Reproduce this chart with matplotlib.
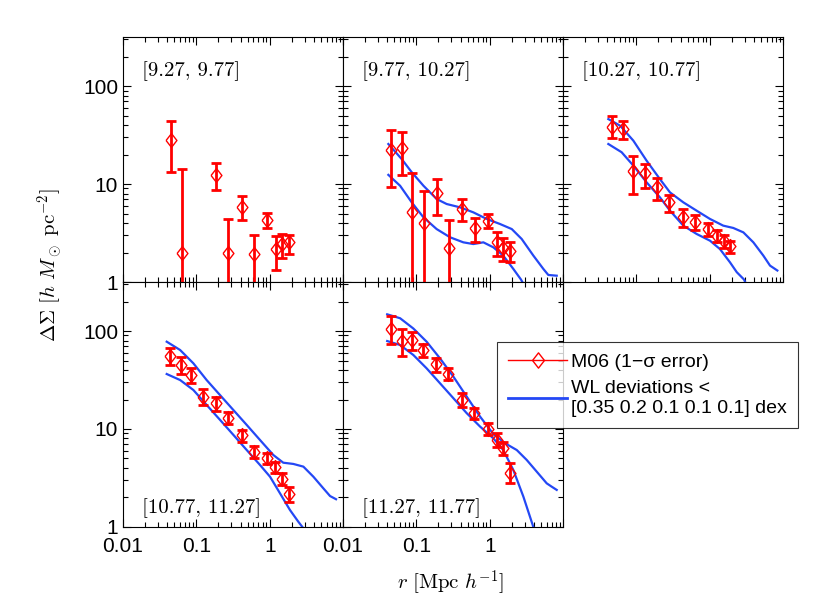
import matplotlib
matplotlib.use('Agg')
import matplotlib.pyplot as plt
from matplotlib.lines import Line2D
from matplotlib.ticker import FixedLocator, LogLocator, NullFormatter
import numpy as np

plt.rcParams['font.family'] = ['Liberation Sans', 'DejaVu Sans']
plt.rcParams['mathtext.fontset'] = 'cm'

# --------------- panel labels ---------------
labels = ['[9.27, 9.77]', '[9.77, 10.27]', '[10.27, 10.77]',
          '[10.77, 11.27]', '[11.27, 11.77]']

# --------------- M06 points (value, upper, lower end of 1-sigma bar) ---------------
r1 = [0.045, 0.063, 0.185, 0.267, 0.415, 0.611, 0.91, 1.21, 1.49, 1.84]
ds1 = [28.3, 1.98, 12.4, 2.0, 5.87, 1.93, 4.3, 2.17, 2.44, 2.54]
hi1 = [44, 14.2, 16.4, 4.4, 7.6, 3.04, 5.06, 2.97, 3.09, 3.04]
lo1 = [13.3, 0.1, 8.75, 0.1, 4.32, 0.1, 3.53, 1.34, 1.75, 1.93]

r2 = [0.0447, 0.0644, 0.088, 0.127, 0.189, 0.282, 0.424, 0.631, 0.94, 1.25, 1.53, 1.89]
ds2 = [22.4, 23.1, 5.14, 3.97, 8.04, 2.21, 5.56, 3.53, 4.16, 2.54, 2.22, 2.09]
hi2 = [35.8, 33.7, 12.9, 8.55, 11.2, 4.29, 7.03, 4.5, 4.94, 3.26, 2.81, 2.54]
lo2 = [9.25, 12.4, 0.1, 0.1, 4.86, 0.1, 4.22, 2.54, 3.53, 1.83, 1.63, 1.59]

r3 = [0.0461, 0.0665, 0.091, 0.131, 0.189, 0.282, 0.429, 0.631, 0.94, 1.27, 1.55, 1.9]
ds3 = [38.4, 36.4, 13.7, 12.9, 9.25, 6.5, 4.57, 4.12, 3.47, 2.97, 2.64, 2.31]
hi3 = [49, 43.6, 19.4, 16, 11.5, 7.8, 5.56, 4.83, 4.0, 3.39, 3.04, 2.64]
lo3 = [29.5, 28.8, 7.9, 9.0, 6.9, 5.2, 3.61, 3.39, 2.97, 2.54, 2.22, 1.98]

r4 = [0.0437, 0.0618, 0.0846, 0.125, 0.184, 0.267, 0.415, 0.611, 0.91, 1.18, 1.49, 1.84]
ds4 = [55.6, 45, 35.6, 21.4, 18.3, 13.0, 8.7, 5.87, 5.02, 4.13, 3.06, 2.15]
hi4 = [66.5, 53.8, 41.6, 25.6, 21.1, 15.0, 9.77, 6.7, 5.73, 4.64, 3.52, 2.54]
lo4 = [45, 36.4, 29.7, 17.6, 15.4, 11.2, 7.43, 5.02, 4.4, 3.58, 2.68, 1.81]

r5 = [0.0452, 0.0644, 0.088, 0.125, 0.185, 0.27, 0.424, 0.62, 0.94, 1.25, 1.5, 1.89]
ds5 = [106, 79.6, 81, 64, 45.7, 36.2, 19.8, 14.5, 10.0, 7.72, 6.45, 3.58]
hi5 = [142, 104, 98.4, 73.7, 53.4, 41.6, 23.1, 16.5, 11.6, 9.04, 7.43, 4.47]
lo5 = [73.7, 56, 64, 54.7, 38.4, 31.6, 16.9, 12.6, 8.7, 6.6, 5.43, 2.83]

# --------------- WL deviation envelopes (upper / lower curve) ---------------
wr2u = [0.0415, 0.063, 0.0864, 0.125, 0.189, 0.259, 0.394, 0.598, 0.91, 1.38, 2.0, 2.73, 3.94, 5.39, 6.3, 8.2]
wu2 = [25.6, 18.0, 13.2, 9.6, 7.03, 6.25, 5.78, 5.14, 4.4, 3.91, 3.47, 2.75, 1.86, 1.36, 1.18, 1.16]
wr2l = [0.0415, 0.06, 0.0864, 0.125, 0.189, 0.288, 0.437, 0.598, 0.82, 1.12, 1.53, 2.1, 2.67, 2.9]
wl2 = [12.4, 9.6, 6.5, 4.57, 3.47, 2.86, 2.54, 2.44, 2.54, 2.26, 1.86, 1.36, 1.06, 0.95]

wr3u = [0.0415, 0.06, 0.091, 0.138, 0.21, 0.288, 0.437, 0.665, 1.01, 1.53, 2.1, 2.88, 3.94, 5.39, 6.65, 8.37]
wu3 = [46, 39.4, 27.7, 17.3, 11.2, 8.2, 6.5, 5.34, 4.4, 3.76, 3.56, 3.21, 2.54, 1.86, 1.47, 1.31]
wr3l = [0.0415, 0.063, 0.091, 0.138, 0.21, 0.288, 0.437, 0.665, 1.01, 1.38, 1.89, 2.34, 2.94, 3.1]
wl3 = [25.6, 21.1, 15.4, 10.4, 7.3, 5.34, 3.76, 3.09, 2.64, 2.17, 1.59, 1.26, 1.06, 0.97]

wr4u = [0.0394, 0.06, 0.091, 0.138, 0.21, 0.32, 0.486, 0.738, 1.12, 1.53, 2.1, 2.88, 3.94, 5.39, 6.65, 8.03]
wu4 = [77.8, 64, 46.8, 31.6, 22.2, 15.6, 11.0, 7.72, 5.43, 4.53, 4.4, 4.13, 3.26, 2.48, 2.07, 1.92]
wr4l = [0.0394, 0.06, 0.091, 0.138, 0.21, 0.32, 0.486, 0.738, 1.01, 1.38, 1.89, 2.46, 2.88]
wl4 = [36.4, 31.6, 25, 17.6, 12.4, 8.7, 6.1, 4.29, 3.26, 2.21, 1.49, 1.13, 0.97]

wr5u = [0.04, 0.06, 0.091, 0.138, 0.21, 0.32, 0.486, 0.738, 1.12, 1.62, 2.34, 3.2, 4.38, 5.99, 7.0, 8.2]
wu5 = [148, 135, 106, 77.8, 52.6, 34.2, 21.4, 13.4, 8.9, 7.15, 6.1, 4.83, 3.67, 2.79, 2.58, 2.39]
wr5l = [0.04, 0.06, 0.091, 0.138, 0.21, 0.32, 0.486, 0.738, 1.12, 1.53, 2.1, 2.88, 3.94, 4.1]
wl5 = [79, 72, 56.9, 41.6, 29.3, 20.6, 14.5, 10.6, 8.04, 6.1, 3.82, 2.04, 1.0, 0.95]
# ----------------------------------------

RED = '#ff0000'
BLUE = '#2448f5'
diamond = [(-0.78, 0), (0, 1), (0.78, 0), (0, -1), (-0.78, 0)]

points = [(r1, ds1, hi1, lo1), (r2, ds2, hi2, lo2), (r3, ds3, hi3, lo3),
          (r4, ds4, hi4, lo4), (r5, ds5, hi5, lo5)]
wl = [None, (wr2u, wu2, wr2l, wl2), (wr3u, wu3, wr3l, wl3),
      (wr4u, wu4, wr4l, wl4), (wr5u, wu5, wr5l, wl5)]

fig, axs = plt.subplots(2, 3, figsize=(8.17, 6.15), dpi=100)
fig.subplots_adjust(left=0.1506, right=0.9584, top=0.9398, bottom=0.1431,
                    wspace=0, hspace=0)
axs[1, 2].remove()

slots = [axs[0, 0], axs[0, 1], axs[0, 2], axs[1, 0], axs[1, 1]]
for i, ax in enumerate(slots):
    r, ds, hi, lo = points[i]
    ds = np.array(ds)
    yerr = [ds - np.array(lo), np.array(hi) - ds]
    ax.errorbar(r, ds, yerr=yerr, fmt='none', ecolor=RED, elinewidth=2,
                capsize=3.5, capthick=2, zorder=3)
    ax.plot(r, ds, linestyle='none', marker=diamond, markersize=10,
            markerfacecolor='none', markeredgecolor=RED, markeredgewidth=1,
            zorder=4)
    if wl[i] is not None:
        xu, yu, xl, yl = wl[i]
        ax.plot(xu, yu, color=BLUE, lw=1.6, zorder=2)
        ax.plot(xl, yl, color=BLUE, lw=1.6, zorder=2)

    ax.set_xscale('log')
    ax.set_yscale('log')
    ax.set_xlim(0.01, 10)
    ax.set_ylim(1, 10 ** 2.5)
    ax.xaxis.set_major_locator(FixedLocator([0.01, 0.1, 1, 10]))
    ax.set_xticklabels(['0.01', '0.1', '1', ''])
    ax.yaxis.set_major_locator(FixedLocator([1, 10, 100]))
    ax.set_yticklabels(['1', '10', '100'])
    ax.xaxis.set_minor_locator(LogLocator(subs=np.arange(2, 10), numticks=20))
    ax.yaxis.set_minor_locator(LogLocator(subs=np.arange(2, 10), numticks=20))
    ax.xaxis.set_minor_formatter(NullFormatter())
    ax.yaxis.set_minor_formatter(NullFormatter())
    ax.tick_params(which='both', direction='in', top=True, right=True,
                   labelsize=15, width=0.8)
    ax.tick_params(which='major', length=6)
    ax.tick_params(which='minor', length=3.5)
    ax.tick_params(axis='x', pad=7.5)
    for s in ax.spines.values():
        s.set_linewidth(0.8)
    if i < 3:
        ax.tick_params(labelbottom=False)
    if i not in (0, 3):
        ax.tick_params(labelleft=False)

    ty = 0.86 if i < 3 else 0.078
    ax.text(0.086, ty, labels[i], family='cmr10', fontsize=15,
            transform=ax.transAxes, va='center', ha='left')

fig.text(0.061, 0.569, r'$\Delta\Sigma\ [h\ M_\odot\ \mathrm{pc}^{-2}]$',
         rotation=90, fontsize=15, ha='center', va='center')
fig.text(0.551, 0.052, r'$r\ [\mathrm{Mpc}\ h^{-1}]$', fontsize=15,
         ha='center', va='center')

handles = [Line2D([], [], color=RED, lw=1, marker=diamond, markersize=11,
                  markerfacecolor='none', markeredgecolor=RED),
           Line2D([], [], color=BLUE, lw=2)]
leg = fig.legend(handles, ['M06 (1\u2212\u03c3 error)',
                           'WL deviations <\n[0.35 0.2 0.1 0.1 0.1] dex'],
                 loc='upper left', bbox_to_anchor=(0.608, 0.444),
                 fontsize=14, frameon=True, fancybox=False,
                 edgecolor='black', borderaxespad=0, handlelength=3.0,
                 borderpad=0.6, labelspacing=0.45, handletextpad=0.2)
leg.get_frame().set_linewidth(0.8)

fig.savefig('out.png', dpi=100)
